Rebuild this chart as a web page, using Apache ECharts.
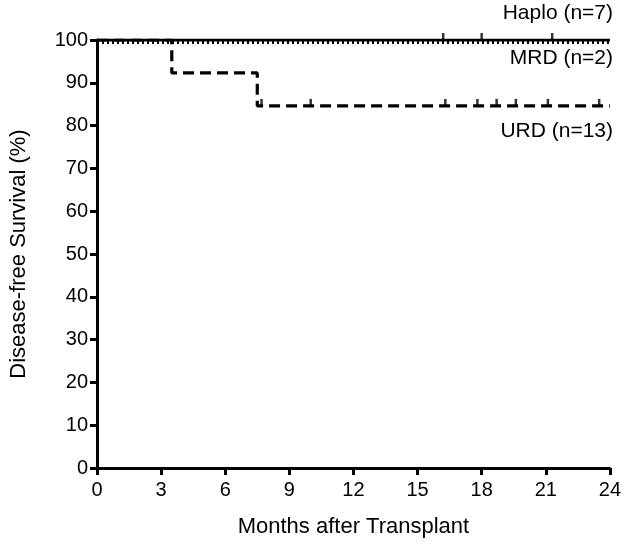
<!DOCTYPE html>
<html>
<head>
<meta charset="utf-8">
<script src="https://cdn.jsdelivr.net/npm/echarts@6/dist/echarts.min.js"></script>
<style>html,body{margin:0;padding:0;background:#fff}#c{width:624px;height:547px}</style>
</head>
<body>
<div id="c"></div>
<script>
// Kaplan-Meier step points [month, survival %]
const haploSteps = [[0, 100], [24, 100]];
const haploCensor = [16.2, 18.0, 21.3];
const mrdSteps = [[0, 99.5], [24, 99.5]];
const urdSteps = [[0, 100], [3.5, 92.3], [7.5, 84.6], [24, 84.6]];
const urdCensor = [7.7, 10.0, 16.3, 17.8, 18.7, 19.6, 21.1, 23.5];
const urdCensorLevel = 84.6;
const haploCensorLevel = 100;
const xTicks = [0, 3, 6, 9, 12, 15, 18, 21, 24];
const yTicks = [0, 10, 20, 30, 40, 50, 60, 70, 80, 90, 100];
const groupLabels = ['Haplo (n=7)', 'MRD (n=2)', 'URD (n=13)'];

const font = 'Liberation Sans, Arial, Helvetica, sans-serif';
const fs = 20;
const fsTitle = 22;
const chart = echarts.init(document.getElementById('c'));
const censorSym = {symbol: 'rect', symbolSize: [2.5, 7], symbolOffset: [0, -3.5]};

chart.setOption({
  animation: false,
  grid: {left: 94, right: 13, top: 40, bottom: 79, containLabel: false},
  xAxis: {
    type: 'value', min: xTicks[0], max: xTicks[xTicks.length - 1], interval: 3,
    name: 'Months after Transplant', nameLocation: 'middle', nameGap: 48,
    nameTextStyle: {fontFamily: font, fontSize: fsTitle, color: '#000'},
    axisLine: {lineStyle: {color: '#000', width: 3}},
    axisTick: {length: 7, lineStyle: {color: '#000', width: 3}},
    axisLabel: {fontFamily: font, fontSize: fs, color: '#000', margin: 12},
    splitLine: {show: false}
  },
  yAxis: {
    type: 'value', min: yTicks[0], max: yTicks[yTicks.length - 1], interval: 10,
    name: 'Disease-free Survival (%)', nameLocation: 'middle', nameGap: 67, nameRotate: 90,
    nameTextStyle: {fontFamily: font, fontSize: fsTitle, color: '#000'},
    axisLine: {lineStyle: {color: '#000', width: 3}},
    axisTick: {length: 7, lineStyle: {color: '#000', width: 3}},
    axisLabel: {fontFamily: font, fontSize: fs, color: '#000', margin: 9},
    splitLine: {show: false}
  },
  series: [
    {type: 'line', name: 'MRD', data: mrdSteps, step: 'end', symbol: 'none', z: 2,
     lineStyle: {color: '#000', width: 3.5, type: [2, 3]}},
    {type: 'line', name: 'URD', data: urdSteps, step: 'end', symbol: 'none', z: 3,
     lineStyle: {color: '#000', width: 3.2, type: [11, 6]}},
    {type: 'line', name: 'Haplo', data: haploSteps, step: 'end', symbol: 'none', z: 4,
     lineStyle: {color: '#000', width: 3}},
    Object.assign({type: 'scatter', z: 5, itemStyle: {color: '#000'},
     data: haploCensor.map(t => [t, haploCensorLevel])}, censorSym),
    Object.assign({type: 'scatter', z: 5, itemStyle: {color: '#000'},
     data: urdCensor.map(t => [t, urdCensorLevel])}, censorSym)
  ],
  graphic: [
    {type: 'text', right: 11, top: 3, style: {text: groupLabels[0], font: '21px ' + font, fill: '#000'}},
    {type: 'text', right: 11, top: 48, style: {text: groupLabels[1], font: '21px ' + font, fill: '#000'}},
    {type: 'text', right: 11, top: 121, style: {text: groupLabels[2], font: '21px ' + font, fill: '#000'}}
  ]
});
</script>
</body>
</html>
